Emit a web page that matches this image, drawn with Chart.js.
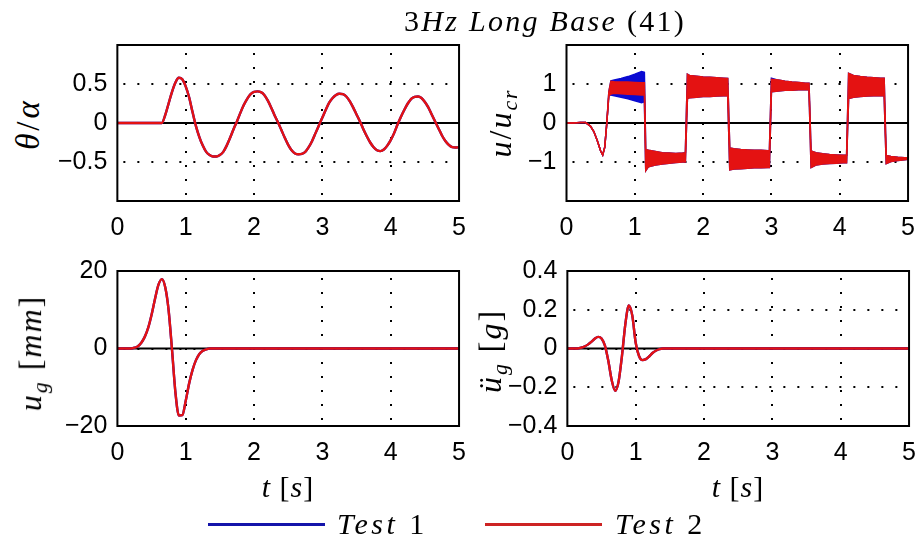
<!DOCTYPE html>
<html>
<head>
<meta charset="utf-8">
<script src="https://cdn.jsdelivr.net/npm/chart.js@4.4.1/dist/chart.umd.min.js"></script>
<style>
  body { margin: 0; width: 917px; height: 542px; background: #fff; position: relative; overflow: hidden; }
  canvas { position: absolute; }
  .lbl { position: absolute; font-family: 'Liberation Serif', 'DejaVu Serif', serif; font-size: 30px;
         white-space: nowrap; transform: translate(-50%, -50%); color: #000; line-height: 1; }
  .rot { transform: translate(-50%, -50%) rotate(-90deg); }
  .lbl sub { font-size: 0.68em; vertical-align: -0.28em; }
  .key { position: absolute; height: 3px; }
</style>
</head>
<body>
<canvas id="theta" width="470" height="250"></canvas>
<canvas id="u" width="470" height="250"></canvas>
<canvas id="ug" width="470" height="250"></canvas>
<canvas id="acc" width="470" height="250"></canvas>

<div class="lbl" style="left:545px; top:21px; letter-spacing:2.3px;">3<i>Hz Long Base</i> (41)</div>
<div class="lbl rot" style="left:28px; top:124px; font-size:33px; letter-spacing:3px;"><i>θ</i>/<i>α</i></div>
<div class="lbl rot" style="left:503px; top:123px; font-size:32px; letter-spacing:2px;"><i>u</i>/<i>u<sub>cr</sub></i></div>
<div class="lbl rot" style="left:33px; top:353px; font-size:32px; letter-spacing:2px;"><i>u<sub>g</sub></i>&nbsp;[<i>mm</i>]</div>
<div class="lbl rot" style="left:493px; top:351px; font-size:32px; letter-spacing:2px;"><i>ü<sub>g</sub></i>&nbsp;[<i>g</i>]</div>
<div class="lbl" style="left:288px; top:487px; letter-spacing:1px;"><i>t</i>&nbsp;[<i>s</i>]</div>
<div class="lbl" style="left:738px; top:487px; letter-spacing:1px;"><i>t</i>&nbsp;[<i>s</i>]</div>

<div class="key" style="left:208px; top:523px; width:117px; background:rgb(20,20,170);"></div>
<div class="lbl" style="left:337px; top:524px; transform:translate(0,-50%); letter-spacing:3.5px;"><i>Test</i> 1</div>
<div class="key" style="left:485px; top:523px; width:117px; background:rgb(205,35,35);"></div>
<div class="lbl" style="left:615px; top:524px; transform:translate(0,-50%); letter-spacing:3.5px;"><i>Test</i> 2</div>

<script>
// tick positions
var xTicks = [0, 1, 2, 3, 4, 5];
var thetaTicks = [-0.5, 0, 0.5];
var uTicks = [-1, 0, 1];
var ugTicks = [-20, 0, 20];
var accTicks = [-0.4, -0.2, 0, 0.2, 0.4];

// theta/alpha (Test 1 sits exactly under Test 2)
var tTheta = [0, 0.3, 0.6,
  0.65, 0.7, 0.75, 0.8, 0.85, 0.9, 0.95, 1.0, 1.05, 1.1,
  1.15, 1.2, 1.25, 1.3, 1.35, 1.4, 1.45, 1.5, 1.55, 1.6,
  1.65, 1.7, 1.75, 1.8, 1.85, 1.9, 1.95, 2.0, 2.05, 2.1,
  2.15, 2.2, 2.25, 2.3, 2.35, 2.4, 2.45, 2.5, 2.55, 2.6,
  2.65, 2.7, 2.75, 2.8, 2.85, 2.9, 2.95, 3.0, 3.05, 3.1,
  3.15, 3.2, 3.25, 3.3, 3.35, 3.4, 3.45, 3.5, 3.55, 3.6,
  3.65, 3.7, 3.75, 3.8, 3.85, 3.9, 3.95, 4.0, 4.05, 4.1,
  4.15, 4.2, 4.25, 4.3, 4.35, 4.4, 4.45, 4.5, 4.55, 4.6,
  4.65, 4.7, 4.75, 4.8, 4.85, 4.9, 4.95, 5.0];
var thetaTest2 = [0, 0, 0,
  0.0, 0.10, 0.25, 0.40, 0.52, 0.58, 0.56, 0.47, 0.33, 0.14,
  -0.04, -0.18, -0.29, -0.37, -0.41, -0.43, -0.43, -0.41, -0.37, -0.29,
  -0.19, -0.08, 0.02, 0.13, 0.23, 0.31, 0.37, 0.40, 0.405, 0.395,
  0.36, 0.29, 0.20, 0.10, 0.01, -0.09, -0.19, -0.28, -0.35, -0.39,
  -0.40, -0.395, -0.37, -0.31, -0.23, -0.13, -0.03, 0.07, 0.17, 0.26,
  0.32, 0.36, 0.375, 0.37, 0.34, 0.28, 0.20, 0.11, 0.02, -0.08,
  -0.17, -0.25, -0.31, -0.35, -0.36, -0.34, -0.29, -0.22, -0.13, -0.02,
  0.08, 0.17, 0.25, 0.31, 0.335, 0.34, 0.32, 0.27, 0.20, 0.11,
  0.02, -0.07, -0.16, -0.23, -0.28, -0.31, -0.315, -0.31];
var thetaTest1 = thetaTest2;

// u/u_cr : upper and lower edge of the chattering band
var tU = [0, 0.1, 0.2, 0.28, 0.35, 0.4, 0.45, 0.5, 0.53, 0.56, 0.59, 0.62, 0.65,
  0.7, 0.8, 0.9, 1.0, 1.1, 1.14,
  1.16, 1.2, 1.3, 1.4, 1.5, 1.6, 1.7, 1.74,
  1.77, 1.8, 1.9, 2.0, 2.1, 2.2, 2.3, 2.36,
  2.39, 2.45, 2.55, 2.65, 2.75, 2.85, 2.95, 2.97,
  3.0, 3.1, 3.2, 3.3, 3.4, 3.5, 3.55,
  3.58, 3.65, 3.75, 3.85, 3.95, 4.05, 4.1,
  4.13, 4.2, 4.3, 4.4, 4.5, 4.6, 4.65,
  4.68, 4.75, 4.85, 4.95, 5.0];
var uHiTest2 = [0, 0, 0.015, 0.01, -0.08, -0.22, -0.45, -0.72, -0.82, -0.62, 0.0, 0.8, 1.07,
  1.06, 1.05, 1.05, 1.04, 1.03, 1.03,
  -0.68, -0.70, -0.73, -0.76, -0.77, -0.78, -0.77, -0.76,
  1.25, 1.22, 1.20, 1.18, 1.17, 1.16, 1.15, 1.14,
  -0.64, -0.66, -0.68, -0.69, -0.70, -0.70, -0.71, -0.71,
  1.12, 1.10, 1.07, 1.05, 1.04, 1.02, 1.02,
  -0.72, -0.76, -0.79, -0.81, -0.82, -0.83, -0.83,
  1.27, 1.22, 1.19, 1.17, 1.16, 1.15, 1.15,
  -0.83, -0.86, -0.88, -0.89, -0.89];
var uLoTest2 = [0, 0, 0.015, 0.01, -0.08, -0.22, -0.45, -0.72, -0.82, -0.62, 0.0, 0.7, 0.74,
  0.76, 0.75, 0.74, 0.73, 0.72, 0.72,
  -1.22, -1.12, -1.08, -1.05, -1.03, -1.01, -1.00, -1.00,
  0.62, 0.65, 0.66, 0.68, 0.68, 0.69, 0.70, 0.70,
  -1.20, -1.18, -1.17, -1.16, -1.15, -1.15, -1.14, -1.14,
  0.80, 0.82, 0.84, 0.84, 0.85, 0.85, 0.85,
  -1.14, -1.08, -1.05, -1.04, -1.03, -1.02, -1.02,
  0.63, 0.66, 0.68, 0.69, 0.70, 0.70, 0.70,
  -1.04, -0.99, -0.96, -0.94, -0.93];
var uHiTest1 = [0, 0, 0.015, 0.01, -0.08, -0.22, -0.45, -0.72, -0.82, -0.62, 0.0, 0.8, 1.08,
  1.10, 1.14, 1.19, 1.25, 1.32, 1.30,
  -0.68, -0.70, -0.73, -0.76, -0.77, -0.78, -0.77, -0.76,
  1.25, 1.22, 1.20, 1.18, 1.17, 1.16, 1.15, 1.14,
  -0.64, -0.66, -0.68, -0.69, -0.70, -0.70, -0.71, -0.71,
  1.15, 1.10, 1.07, 1.05, 1.04, 1.02, 1.02,
  -0.72, -0.76, -0.79, -0.81, -0.82, -0.83, -0.83,
  1.27, 1.22, 1.19, 1.17, 1.16, 1.15, 1.15,
  -0.83, -0.86, -0.88, -0.89, -0.89];
var uLoTest1 = [0, 0, 0.015, 0.01, -0.08, -0.22, -0.45, -0.72, -0.82, -0.62, 0.0, 0.7, 0.72,
  0.70, 0.66, 0.62, 0.57, 0.52, 0.55,
  -1.22, -1.12, -1.08, -1.05, -1.03, -1.01, -1.00, -1.00,
  0.62, 0.65, 0.66, 0.68, 0.68, 0.69, 0.70, 0.70,
  -1.20, -1.18, -1.17, -1.16, -1.15, -1.15, -1.14, -1.14,
  0.80, 0.82, 0.84, 0.84, 0.85, 0.85, 0.85,
  -1.14, -1.08, -1.05, -1.04, -1.03, -1.02, -1.02,
  0.63, 0.66, 0.68, 0.69, 0.70, 0.70, 0.70,
  -1.04, -0.99, -0.96, -0.94, -0.93];

// ground displacement u_g [mm]
var tG = [0, 0.2, 0.25, 0.3, 0.35, 0.4, 0.45, 0.5, 0.55, 0.6, 0.65, 0.7, 0.75,
  0.8, 0.85, 0.9, 0.95, 1.0, 1.05, 1.1, 1.15, 1.2, 1.25, 1.3, 1.35, 5.0];
var ugTest2 = [0, 0, 0.2, 0.6, 1.5, 3.0, 5.3, 8.7, 12.8, 16.4, 17.9, 15.8, 9.8,
  -0.5, -11.5, -17.3, -17.2, -13.5, -9.0, -5.5, -3.0, -1.4, -0.6, -0.2, 0, 0];
var ugTest1 = ugTest2;

// ground acceleration [g]
var tA = [0, 0.15, 0.2, 0.25, 0.3, 0.35, 0.4, 0.45, 0.5, 0.55, 0.6, 0.65, 0.7,
  0.75, 0.8, 0.85, 0.9, 0.95, 1.0, 1.05, 1.1, 1.15, 1.2, 1.25, 1.3, 1.35, 1.4, 5.0];
var accTest2 = [0, 0, 0.004, 0.010, 0.020, 0.034, 0.050, 0.060, 0.052, 0.015, -0.065, -0.165, -0.218,
  -0.17, -0.035, 0.13, 0.222, 0.17, 0.03, -0.04, -0.06, -0.055, -0.04, -0.022, -0.01, -0.003, 0, 0];
var accTest1 = accTest2;

var BLUE = 'rgb(10,10,210)';
var RED = 'rgb(228,18,18)';

Chart.defaults.font.family = "'Liberation Sans', Arial, sans-serif";
Chart.defaults.color = '#000';

function pts(t, v) {
  return t.map(function (x, i) { return { x: x, y: v[i] }; });
}

function zeroLine() {
  return { data: [{ x: 0, y: 0 }, { x: 5, y: 0 }], borderColor: '#000', borderWidth: 2, pointRadius: 0 };
}

function curve(t, v, color) {
  return { data: pts(t, v), borderColor: color, borderWidth: 2.4, pointRadius: 0,
           cubicInterpolationMode: 'monotone' };
}

function band(t, hi, lo, color) {
  return [
    { data: pts(t, hi), borderColor: color, backgroundColor: color, borderWidth: 1.5, pointRadius: 0, fill: '+1' },
    { data: pts(t, lo), borderColor: color, borderWidth: 1.5, pointRadius: 0 }
  ];
}

// dotted MATLAB-like grid under the data, black box over it
var framePlugin = {
  id: 'frame',
  beforeDatasetsDraw: function (chart) {
    var ctx = chart.ctx, a = chart.chartArea, xs = chart.scales.x, ys = chart.scales.y;
    ctx.save();
    ctx.strokeStyle = '#000';
    ctx.lineWidth = 2;
    ctx.setLineDash([2, 12]);
    xs.ticks.forEach(function (tk) {
      if (tk.value <= xs.min || tk.value >= xs.max) return;
      var px = Math.round(xs.getPixelForValue(tk.value));
      ctx.beginPath(); ctx.moveTo(px, a.bottom - 6); ctx.lineTo(px, a.top); ctx.stroke();
    });
    ys.ticks.forEach(function (tk) {
      if (tk.value <= ys.min || tk.value >= ys.max) return;
      var py = Math.round(ys.getPixelForValue(tk.value));
      ctx.beginPath(); ctx.moveTo(a.left + 6, py); ctx.lineTo(a.right, py); ctx.stroke();
    });
    ctx.restore();
  },
  afterDatasetsDraw: function (chart) {
    var ctx = chart.ctx, a = chart.chartArea;
    ctx.save();
    ctx.strokeStyle = '#000';
    ctx.lineWidth = 2;
    ctx.strokeRect(a.left, a.top, a.right - a.left, a.bottom - a.top);
    ctx.restore();
  }
};

function fmt(v) {
  return v < 0 ? '\u2212' + String(-v) : String(v);
}

function panel(id, box, yMin, yMax, yTicks, datasets) {
  var chart = new Chart(document.getElementById(id), {
    type: 'line',
    data: { datasets: datasets },
    plugins: [framePlugin],
    options: {
      responsive: false,
      maintainAspectRatio: false,
      animation: false,
      devicePixelRatio: 1,
      events: [],
      layout: { padding: { top: 2, right: 4, bottom: 2, left: 2 } },
      plugins: { legend: { display: false }, tooltip: { enabled: false } },
      scales: {
        x: {
          type: 'linear', min: 0, max: 5,
          afterBuildTicks: function (s) { s.ticks = xTicks.map(function (v) { return { value: v }; }); },
          grid: { display: false, drawTicks: false },
          border: { display: false },
          ticks: { padding: 12, font: { size: 25 }, maxRotation: 0, autoSkip: false, callback: fmt }
        },
        y: {
          type: 'linear', min: yMin, max: yMax,
          afterBuildTicks: function (s) { s.ticks = yTicks.map(function (v) { return { value: v }; }); },
          grid: { display: false, drawTicks: false },
          border: { display: false },
          ticks: { padding: 10, font: { size: 25 }, autoSkip: false, callback: fmt }
        }
      }
    }
  });
  // size and move the canvas so the plot box lands where the original has it
  var a = chart.chartArea;
  var w = Math.round(chart.width + (box.r - box.l) - (a.right - a.left));
  var h = Math.round(chart.height + (box.b - box.t) - (a.bottom - a.top));
  chart.resize(w, h);
  a = chart.chartArea;
  chart.canvas.style.left = Math.round(box.l - a.left) + 'px';
  chart.canvas.style.top = Math.round(box.t - a.top) + 'px';
  return chart;
}

panel('theta', { l: 117, r: 459, t: 45, b: 201 }, -1, 1, thetaTicks, [
  curve(tTheta, thetaTest2, RED),
  curve(tTheta, thetaTest1, BLUE),
  zeroLine()
]);

panel('u', { l: 567, r: 909, t: 45, b: 201 }, -2, 2, uTicks,
  band(tU, uHiTest2, uLoTest2, RED)
    .concat(band(tU, uHiTest1, uLoTest1, BLUE))
    .concat([zeroLine()])
);

panel('ug', { l: 117, r: 459, t: 271, b: 426 }, -20, 20, ugTicks, [
  curve(tG, ugTest2, RED),
  curve(tG, ugTest1, BLUE),
  zeroLine()
]);

panel('acc', { l: 567, r: 909, t: 271, b: 426 }, -0.4, 0.4, accTicks, [
  curve(tA, accTest2, RED),
  curve(tA, accTest1, BLUE),
  zeroLine()
]);
</script>
</body>
</html>
